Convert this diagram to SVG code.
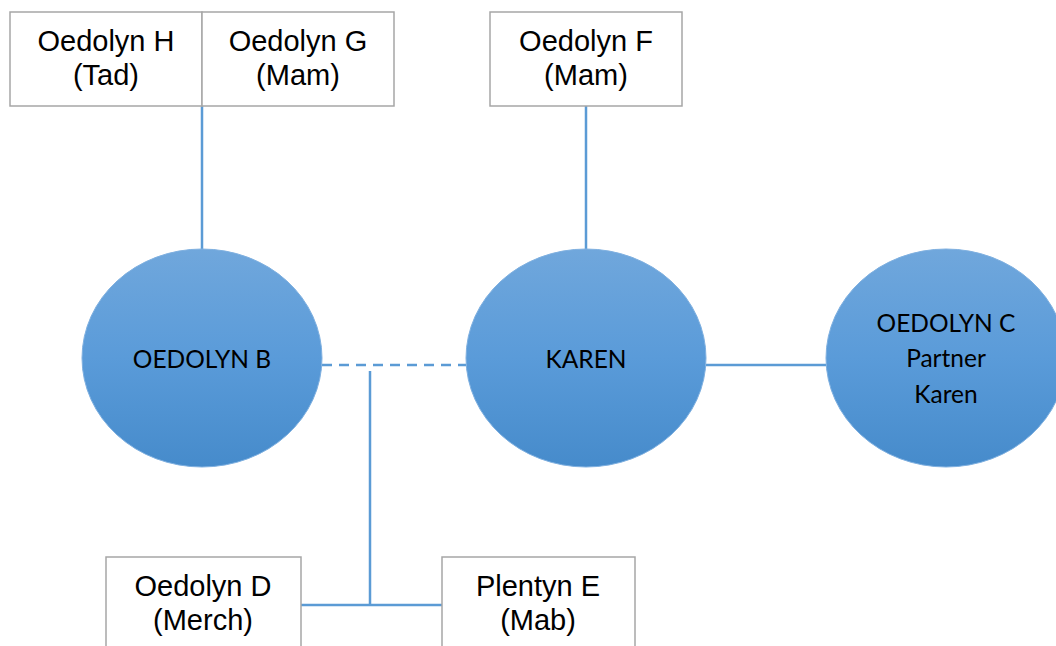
<svg xmlns="http://www.w3.org/2000/svg" width="1056" height="646" viewBox="0 0 1056 646">
<style>
.box{fill:#fff;stroke:#a6a6a6;stroke-width:1.5}
.bt{font-family:"Liberation Sans",Arial,sans-serif;font-size:29px;fill:#000;text-anchor:middle}
.et{font-family:Lato,"Open Sans",sans-serif;font-size:24.5px;fill:#000;text-anchor:middle}
.ell{fill:url(#g);stroke:#7fb0e0;stroke-width:1}
.c{stroke:#5b9bd5;stroke-width:2.5;fill:none}
</style>
<defs>
<linearGradient id="g" x1="0" y1="0" x2="0" y2="1">
<stop offset="0" stop-color="#70a7dc"/>
<stop offset="0.5" stop-color="#5a9bd9"/>
<stop offset="1" stop-color="#468bcb"/>
</linearGradient>
</defs>
<g id="connectors">
<line class="c" x1="202" y1="106" x2="202" y2="250"/>
<line class="c" x1="586" y1="106" x2="586" y2="250"/>
<line class="c" x1="322" y1="365" x2="466" y2="365" stroke-dasharray="10,7"/>
<line class="c" x1="706" y1="365" x2="826" y2="365"/>
<line class="c" x1="370" y1="371" x2="370" y2="605"/>
<line class="c" x1="301" y1="605" x2="442" y2="605"/>
</g>
<g id="nodeH">
<rect class="box" x="10" y="12" width="192" height="94"/>
<text class="bt" x="106" y="51">Oedolyn H</text>
<text class="bt" x="106" y="85">(Tad)</text>
</g>
<g id="nodeG">
<rect class="box" x="202" y="12" width="192" height="94"/>
<text class="bt" x="298" y="51">Oedolyn G</text>
<text class="bt" x="298" y="85">(Mam)</text>
</g>
<g id="nodeF">
<rect class="box" x="490" y="12" width="192" height="94"/>
<text class="bt" x="586" y="51">Oedolyn F</text>
<text class="bt" x="586" y="85">(Mam)</text>
</g>
<g id="nodeB">
<ellipse class="ell" cx="202" cy="358" rx="120" ry="109"/>
<text class="et" x="202" y="368">OEDOLYN B</text>
</g>
<g id="nodeKaren">
<ellipse class="ell" cx="586" cy="358" rx="120" ry="109"/>
<text class="et" x="586" y="368">KAREN</text>
</g>
<g id="nodeC">
<ellipse class="ell" cx="946" cy="358" rx="120" ry="109"/>
<text class="et" x="946" y="332">OEDOLYN C</text>
<text class="et" x="946" y="367">Partner</text>
<text class="et" x="946" y="403">Karen</text>
</g>
<g id="nodeD">
<rect class="box" x="106" y="557" width="195" height="100"/>
<text class="bt" x="203" y="596">Oedolyn D</text>
<text class="bt" x="203" y="630">(Merch)</text>
</g>
<g id="nodeE">
<rect class="box" x="442" y="557" width="193" height="100"/>
<text class="bt" x="538" y="596">Plentyn E</text>
<text class="bt" x="538" y="630">(Mab)</text>
</g>
</svg>
